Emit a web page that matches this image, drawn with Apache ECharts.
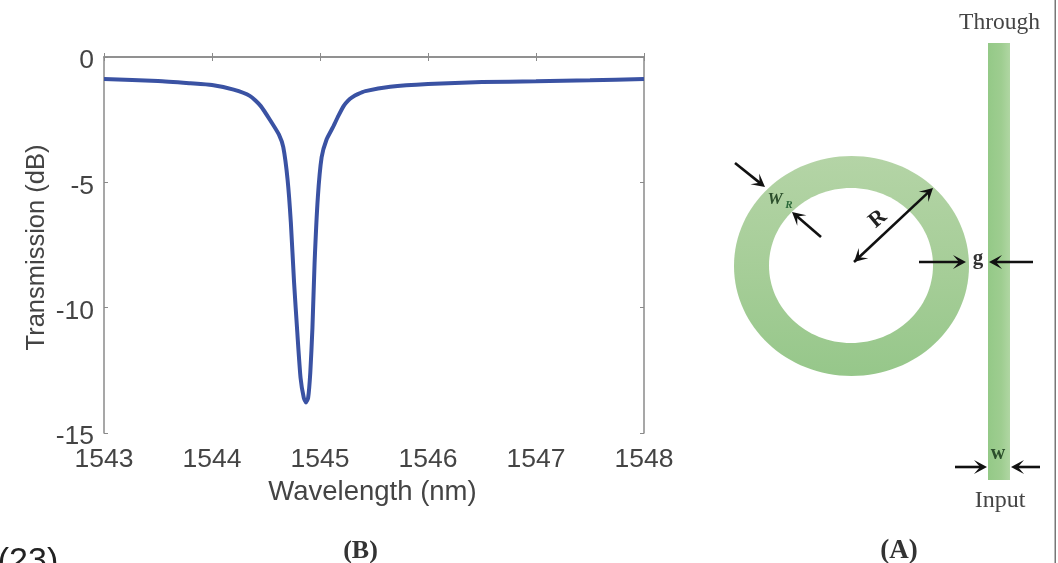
<!DOCTYPE html>
<html>
<head>
<meta charset="utf-8">
<style>html,body{margin:0;padding:0;background:#fff;overflow:hidden}#c{width:1058px;height:563px}</style>
<script src="https://cdn.jsdelivr.net/npm/echarts@6/dist/echarts.min.js"></script>
</head>
<body>
<div id="c"></div>
<script>
const wavelengthNm = [1543,1543.5,1543.8,1544,1544.2,1544.35,1544.45,1544.55,1544.62,1544.66,1544.7,1544.73,1544.76,1544.79,1544.82,1544.85,1544.87,1544.89,1544.91,1544.93,1544.95,1544.98,1545.015,1545.06,1545.12,1545.17,1545.22,1545.26,1545.3,1545.35,1545.42,1545.65,1546,1546.5,1547,1547.5,1548];
const transmissionDb = [-0.88,-0.96,-1.05,-1.12,-1.30,-1.55,-1.95,-2.6,-3.1,-3.6,-4.9,-6.6,-9,-11,-12.8,-13.6,-13.78,-13.6,-12.6,-10.8,-8.2,-5.6,-4,-3.3,-2.8,-2.35,-1.95,-1.74,-1.6,-1.48,-1.36,-1.19,-1.08,-1.0,-0.97,-0.93,-0.88];
const xTicks = [1543,1548,1];
const yTicks = [-15,0,5];

const TXT = '#444444', AX = '#8a8a8a', SERIF = '"Liberation Serif", serif', SANS = '"Liberation Sans", Arial, sans-serif';

function arrow(x1, y1, x2, y2, both) {
  const a = Math.atan2(y2 - y1, x2 - x1), L = 13, W = 7;
  const head = (x, y, t) => ({
    type: 'polygon', z: 20,
    shape: { points: [[x, y],
      [x - L * Math.cos(t) + W * Math.sin(t), y - L * Math.sin(t) - W * Math.cos(t)],
      [x - 7 * Math.cos(t), y - 7 * Math.sin(t)],
      [x - L * Math.cos(t) - W * Math.sin(t), y - L * Math.sin(t) + W * Math.cos(t)]] },
    style: { fill: '#111' }
  });
  const out = [{ type: 'line', z: 20, shape: { x1, y1, x2: x2 - 5 * Math.cos(a), y2: y2 - 5 * Math.sin(a) }, style: { stroke: '#111', lineWidth: 2.6 } }, head(x2, y2, a)];
  if (both) out.push(head(x1, y1, a + Math.PI));
  return out;
}
function label(text, x, y, font, extra) {
  return Object.assign({
    type: 'text', z: 21, x, y,
    style: Object.assign({ text, font, fill: TXT, align: 'center', verticalAlign: 'middle' }, extra && extra.style)
  }, extra && extra.el);
}
const ringFill = { type: 'linear', x: 0, y: 0, x2: 0, y2: 1, colorStops: [
  { offset: 0, color: '#b4d4a6' }, { offset: 0.55, color: '#a5cd97' }, { offset: 1, color: '#96c78a' }] };
const guideFill = { type: 'linear', x: 0, y: 0, x2: 1, y2: 0, colorStops: [
  { offset: 0, color: '#94c987' }, { offset: 0.6, color: '#9ecd90' }, { offset: 1, color: '#b0d6a3' }] };

const schematic = [
  { type: 'ellipse', z: 5, shape: { cx: 851.5, cy: 266, rx: 117.5, ry: 110 }, style: { fill: ringFill } },
  { type: 'ellipse', z: 6, shape: { cx: 851, cy: 265.5, rx: 82, ry: 77.5 }, style: { fill: '#fff' } },
  { type: 'rect', z: 5, shape: { x: 988, y: 43, width: 22, height: 437 }, style: { fill: guideFill } },
  { type: 'rect', z: 5, shape: { x: 1054.5, y: 0, width: 1.5, height: 563 }, style: { fill: '#777' } },
  ...arrow(735, 163, 765, 187),
  ...arrow(821, 237, 792, 212),
  ...arrow(854, 262, 933, 188, true),
  ...arrow(919, 262, 966, 262),
  ...arrow(1033, 262, 989, 262),
  ...arrow(955, 467, 987, 467),
  ...arrow(1040, 467, 1011, 467),
  label('W', 775, 200, 'italic bold 17px ' + SERIF, { style: { fill: '#2c4f2c' } }),
  label('R', 789, 205, 'italic bold 11px ' + SERIF, { style: { fill: '#2c6a3a' } }),
  label('R', 878, 219, 'bold 22px ' + SERIF, { style: { fill: '#222' }, el: { rotation: 0.7 } }),
  label('g', 978, 259, 'bold 21px ' + SERIF, { style: { fill: '#333' } }),
  label('w', 998, 454, 'bold 20px ' + SERIF, { style: { fill: '#2c4f2c' } }),
  label('Through', 999.5, 23, '23.5px ' + SERIF),
  label('Input', 1000, 501, '24px ' + SERIF),
  label('(A)', 899, 551, 'bold 27px ' + SERIF, { style: { fill: '#333' } }),
  label('(B)', 360.5, 551, 'bold 26px ' + SERIF, { style: { fill: '#333' } }),
  label('(23)', 28, 562, '34px ' + SANS, { style: { fill: '#222' } })
];

const chart = echarts.init(document.getElementById('c'), null, { renderer: 'canvas' });
const axisLine = { show: true, lineStyle: { color: AX, width: 1.5 } };
const tickIn = { show: true, inside: true, length: 4, lineStyle: { color: AX, width: 1 } };
chart.setOption({
  animation: false,
  backgroundColor: '#fff',
  grid: { left: 104, right: 414, top: 57, bottom: 130, containLabel: false },
  xAxis: [
    { type: 'value', min: xTicks[0], max: xTicks[1], interval: xTicks[2], position: 'bottom',
      name: 'Wavelength (nm)', nameLocation: 'middle', nameGap: 45,
      nameTextStyle: { fontFamily: SANS, fontSize: 27.5, color: TXT, padding: [0, 3, 0, 0] },
      axisLine, axisTick: tickIn, splitLine: { show: false },
      axisLabel: { fontFamily: SANS, fontSize: 26.5, color: TXT, margin: 13, formatter: v => String(v) } },
    { type: 'value', min: xTicks[0], max: xTicks[1], interval: xTicks[2], position: 'top',
      axisLine, axisTick: tickIn, axisLabel: { show: false }, splitLine: { show: false } }
  ],
  yAxis: [
    { type: 'value', min: yTicks[0], max: yTicks[1], interval: yTicks[2], position: 'left',
      name: 'Transmission (dB)', nameLocation: 'middle', nameGap: 54, nameMoveOverlap: false,
      nameTextStyle: { fontFamily: SANS, fontSize: 25.5, color: TXT, padding: [0, 5, 0, 0] },
      axisLine, axisTick: tickIn, splitLine: { show: false },
      axisLabel: { fontFamily: SANS, fontSize: 26.5, color: TXT, margin: 10, verticalAlign: 'top', lineHeight: 8 } },
    { type: 'value', min: yTicks[0], max: yTicks[1], interval: yTicks[2], position: 'right',
      axisLine, axisTick: tickIn, axisLabel: { show: false }, splitLine: { show: false } }
  ],
  series: [{
    type: 'line', xAxisIndex: 0, yAxisIndex: 0, showSymbol: false, smooth: 0.2,
    data: wavelengthNm.map((w, i) => [w, transmissionDb[i]]),
    lineStyle: { color: '#3a52a3', width: 4 }
  }],
  graphic: { elements: schematic }
});
</script>
</body>
</html>
